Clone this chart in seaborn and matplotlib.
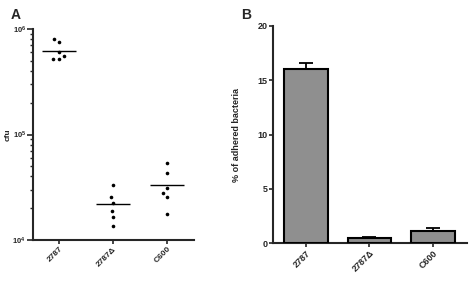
import numpy as np
import pandas as pd
import matplotlib
matplotlib.use('Agg')
import matplotlib.pyplot as plt
import seaborn as sns

# data
strains = ['2787', '2787Δ', 'C600']
cfu_2787 = [800000, 750000, 600000, 560000, 520000, 520000]
cfu_2787d = [33400, 25400, 22600, 18700, 16500, 13700]
cfu_c600 = [54000, 43100, 31300, 27700, 25400, 17500]
adhered_mean = [16.0, 0.45, 1.15]
adhered_sem = [0.6, 0.08, 0.27]
log_ticks = [1e4, 1e5, 1e6]
log_labels = [r'$\mathbf{10^{4}}$', r'$\mathbf{10^{5}}$', r'$\mathbf{10^{6}}$']

sns.set_theme(style='ticks')
plt.rcParams['font.family'] = ['Liberation Sans', 'DejaVu Sans']
plt.rcParams['font.weight'] = 'bold'
plt.rcParams['axes.linewidth'] = 1.5
plt.rcParams['mathtext.fontset'] = 'custom'
plt.rcParams['mathtext.bf'] = 'Liberation Sans:bold'
plt.rcParams['mathtext.rm'] = 'Liberation Sans:bold'

df_cfu = pd.DataFrame({
    'strain': [strains[0]] * len(cfu_2787) + [strains[1]] * len(cfu_2787d) + [strains[2]] * len(cfu_c600),
    'cfu': cfu_2787 + cfu_2787d + cfu_c600,
})
df_adh = pd.DataFrame({'strain': strains, 'pct': adhered_mean, 'sem': adhered_sem})

fig = plt.figure(figsize=(4.7, 2.85), dpi=100)
ax1 = fig.add_axes([0.070, 0.158, 0.343, 0.740])
ax2 = fig.add_axes([0.581, 0.147, 0.413, 0.762])

# panel A: cfu scatter, log scale
ax1.set_yscale('log')
ax1.set_ylim(1e4, 1e6)
ax1.set_xlim(-0.48, 2.5)
# swarm laid out with bigger markers so the points spread like the original, then shrunk
sns.swarmplot(data=df_cfu, x='strain', y='cfu', order=strains, color='black',
              size=4.2, ax=ax1)
ax1.set_xlim(-0.48, 2.5)
ax1.set_ylim(1e4, 1e6)
fig.canvas.draw()
for coll in ax1.collections:
    offs = coll.get_offsets().copy()
    if 'draw' in coll.__dict__:
        del coll.draw
    coll.set_offsets(offs)
    coll.set_sizes([2.6 ** 2])

means = df_cfu.groupby('strain')['cfu'].mean().reindex(strains)
for i, m in enumerate(means):
    ax1.hlines(m, i - 0.32, i + 0.32, color='black', lw=1.0)
ax1.set_yticks(log_ticks)
ax1.set_yticklabels(log_labels, fontsize=5.5)
ax1.set_xlabel('')
ax1.set_ylabel('cfu', fontsize=6, fontweight='bold')
ax1.yaxis.set_label_coords(-0.13, 0.5)
ax1.tick_params(axis='y', which='major', length=4, width=1.2, pad=1)
ax1.tick_params(axis='y', which='minor', length=2.5, width=1.0)
ax1.tick_params(axis='x', length=3, width=1.2, pad=1)
ax1.set_xticks(range(len(strains)))
ax1.set_xticklabels(strains, rotation=45, ha='right', rotation_mode='anchor',
                    fontsize=6, fontweight='bold')
sns.despine(ax=ax1)

# panel B: adhered bacteria bars
sns.barplot(data=df_adh, x='strain', y='pct', order=strains, color='#8f8f8f',
            saturation=1, edgecolor='black', linewidth=1.5, width=0.69,
            errorbar=None, ax=ax2, zorder=3)
ax2.errorbar(range(len(strains)), df_adh['pct'],
             yerr=[np.zeros(len(strains)), df_adh['sem']],
             fmt='none', ecolor='black', elinewidth=1.3, capsize=5, capthick=1.3, zorder=2)
ax2.set_ylim(0, 20)
ax2.set_xlim(-0.52, 2.54)
ax2.set_yticks([0, 5, 10, 15, 20])
ax2.set_yticklabels(['0', '5', '10', '15', '20'], fontsize=6.5, fontweight='bold')
ax2.set_xticks(range(len(strains)))
ax2.set_xticklabels(strains, rotation=45, ha='right', rotation_mode='anchor',
                    fontsize=6.5, fontweight='bold')
ax2.set_xlabel('')
ax2.set_ylabel('% of adhered bacteria', fontsize=6.5, fontweight='bold')
ax2.yaxis.set_label_coords(-0.165, 0.5)
ax2.tick_params(axis='both', length=3, width=1.2, pad=1)
sns.despine(ax=ax2)

fig.text(0.022, 0.935, 'A', fontsize=10, fontweight='bold')
fig.text(0.513, 0.935, 'B', fontsize=10, fontweight='bold')

fig.savefig('out.png', dpi=100)
